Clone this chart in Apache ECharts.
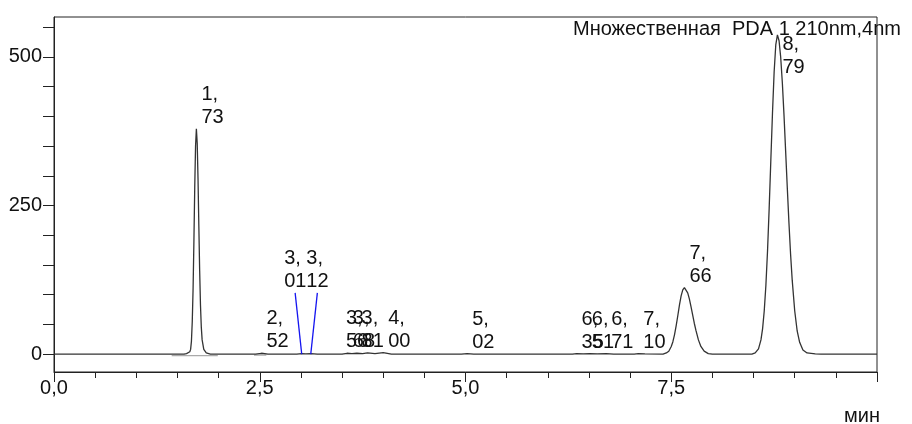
<!DOCTYPE html>
<html>
<head>
<meta charset="utf-8">
<script src="https://cdn.jsdelivr.net/npm/echarts@6/dist/echarts.min.js"></script>
<style>
  html, body { margin: 0; padding: 0; background: #fff; }
  #chart { width: 912px; height: 424px; }
</style>
</head>
<body>
<div id="chart"></div>
<script>
// chromatogram trace: time (min) / signal
var traceTime = [
  0, 1.40, 1.58, 1.61, 1.63, 1.65, 1.66, 1.67, 1.68, 1.69, 1.70, 1.71, 1.72, 1.73, 1.74, 1.75, 1.76,
  1.77, 1.78, 1.79, 1.80, 1.82, 1.85, 1.90,
  2.45, 2.52, 2.60, 2.95, 3.01, 3.06, 3.12, 3.20, 3.50, 3.56, 3.62, 3.68, 3.75, 3.81, 3.90, 4.00, 4.10,
  4.95, 5.02, 5.10, 6.30, 6.35, 6.43, 6.51, 6.60, 6.71, 6.80, 7.05, 7.10, 7.18,
  7.40, 7.44, 7.47, 7.50, 7.52, 7.54, 7.56, 7.58, 7.60, 7.62, 7.64, 7.66, 7.68, 7.70, 7.72, 7.74, 7.76,
  7.78, 7.80, 7.83, 7.86, 7.90, 7.95, 8.00,
  8.48, 8.52, 8.56, 8.59, 8.61, 8.63, 8.65, 8.67, 8.69, 8.71, 8.73, 8.75, 8.77, 8.79, 8.81, 8.83, 8.85,
  8.87, 8.89, 8.91, 8.93, 8.95, 8.97, 9.00, 9.03, 9.06, 9.10, 9.15, 9.25, 9.32, 10.0
];
var traceSignal = [
  0, 0, 0, 1, 3, 4, 8, 22, 55, 110, 190, 280, 350, 379, 355, 295, 215,
  140, 82, 45, 24, 8, 2, 0,
  0, 1.5, 0, 0, 1, 0.5, 1, 0, 0, 1.5, 1, 1.5, 1, 2, 1, 2.5, 0,
  0, 1, 0, 0, 1, 0.5, 1, 0.5, 1, 0, 0, 1, 0.5,
  0, 2, 5, 13, 21, 33, 48, 65, 83, 98, 108, 112, 110, 103, 93, 80, 66,
  52, 40, 24, 13, 5, 1, 0,
  0, 2, 9, 24, 43, 73, 116, 174, 246, 326, 405, 474, 520, 537, 527, 499, 456,
  402, 341, 280, 221, 168, 124, 73, 39, 20, 7, 2, 0.5, 0, 0
];

// detected peaks: retention time and apex height
var peakTimes = [1.73, 2.52, 3.01, 3.12, 3.56, 3.68, 3.81, 4.00, 5.02, 6.35, 6.51, 6.71, 7.10, 7.66, 8.79];
var peakHeights = [379, 1.5, 1, 1, 1.5, 1.5, 2, 2.5, 1, 1, 1, 1, 1, 112, 537];

// labels that were moved up, with a blue leader line
var leaderFromTime = [3.01, 3.12];
var leaderToTime = [2.93, 3.20];
var leaderToValue = [103, 103];

// integration baselines (grey)
var baseTime = [1.43, 1.99, 2.2, 2.43, 2.58];
var baseValue = [-2.5, -2.5, '-', -1.5, -1.5];

var xLabelValues = [0, 2.5, 5, 7.5];
var yTickValues = [0, 50, 100, 150, 200, 250, 300, 350, 400, 450, 500, 550];
var yLabelValues = [0, 250, 500];

var titleText = 'Множественная  PDA 1 210nm,4nm';
var xUnit = 'мин';

// style
var FONT = '"Liberation Sans", Arial, sans-serif';
var FS = 20;
var INK = '#111';
var AXIS = '#222';
// pixel nudges for crowded labels (same order as peakTimes)
var labelNudge = [0, 0, 0, 0, -6, -9, -11, 0, 0, 0, -3, 0, 0, 0, 0];

var chart = echarts.init(document.getElementById('chart'));

var series = [
  {
    type: 'line',
    data: traceTime.map(function (t, i) { return [t, traceSignal[i]]; }),
    symbol: 'none',
    lineStyle: { color: '#333', width: 1.3 },
    z: 5,
    silent: true
  },
  {
    type: 'line',
    data: baseTime.map(function (t, i) { return [t, baseValue[i]]; }),
    symbol: 'none',
    connectNulls: false,
    lineStyle: { color: '#aaa', width: 1.2 },
    z: 4,
    silent: true
  },
  {
    type: 'custom',
    data: peakTimes.map(function (t, i) { return [t, peakHeights[i], i]; }),
    clip: false,
    silent: true,
    z: 10,
    renderItem: function (params, api) {
      var i = api.value(2);
      var t = peakTimes[i];
      var text = t.toFixed(2).replace('.', ',\n');
      var lead = leaderFromTime.indexOf(t);
      var style = {
        text: text, font: FS + 'px ' + FONT, fill: INK, lineHeight: 23,
        align: 'left', verticalAlign: 'bottom'
      };
      if (lead >= 0) {
        var q = api.coord([leaderToTime[lead], leaderToValue[lead]]);
        style.x = q[0] - 11;
        style.y = q[1];
        return { type: 'text', style: style };
      }
      var p = api.coord([t, peakHeights[i]]);
      style.x = p[0] + 5 + labelNudge[i];
      style.y = Math.max(p[1], params.coordSys.y + 62);
      return { type: 'text', style: style };
    }
  }
];

leaderFromTime.forEach(function (t, k) {
  series.push({
    type: 'line',
    data: [[t, 0], [leaderToTime[k], leaderToValue[k]]],
    symbol: 'none',
    lineStyle: { color: '#1515f0', width: 1.3 },
    z: 6,
    silent: true
  });
});

var option = {
  animation: false,
  backgroundColor: '#fff',
  grid: {
    left: 54, right: 35, top: 17, bottom: 52,
    show: true, borderColor: AXIS, borderWidth: 1,
    outerBoundsMode: 'none'
  },
  xAxis: {
    type: 'value',
    min: 0, max: 10, interval: 2.5,
    axisLine: { show: true, onZero: false, lineStyle: { color: AXIS, width: 1 } },
    axisTick: { show: true, inside: false, length: 10, lineStyle: { color: AXIS, width: 1 } },
    minorTick: { show: true, splitNumber: 5, length: 6, lineStyle: { color: AXIS, width: 1 } },
    axisLabel: {
      show: true, margin: 6, color: INK, fontFamily: FONT, fontSize: FS,
      showMaxLabel: false,
      formatter: function (v) {
        return xLabelValues.indexOf(v) >= 0 ? v.toFixed(1).replace('.', ',') : '';
      }
    },
    splitLine: { show: false },
    minorSplitLine: { show: false }
  },
  yAxis: {
    type: 'value',
    min: -30, max: 567,
    axisLine: { show: true, onZero: false, lineStyle: { color: AXIS, width: 1 } },
    axisTick: { show: true, inside: false, length: 11, customValues: yTickValues, lineStyle: { color: AXIS, width: 1 } },
    axisLabel: { show: true, margin: 12, customValues: yLabelValues, color: INK, fontFamily: FONT, fontSize: FS },
    splitLine: { show: false }
  },
  graphic: [
    {
      type: 'text', left: 573, top: 19, z: 20,
      style: { text: titleText, font: FS + 'px ' + FONT, fill: INK }
    },
    {
      type: 'text', x: 862, y: 416, z: 20,
      style: { text: xUnit, font: FS + 'px ' + FONT, fill: INK, align: 'center', verticalAlign: 'middle' }
    }
  ],
  series: series
};

chart.setOption(option);
</script>
</body>
</html>
